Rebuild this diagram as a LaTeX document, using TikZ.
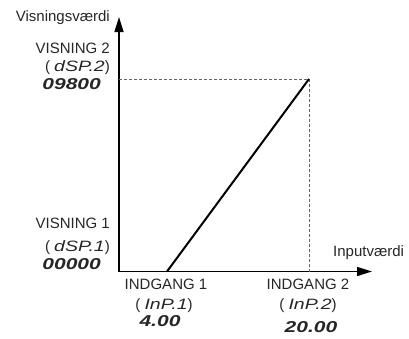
\documentclass[tikz,border=0pt]{standalone}
\usepackage{fontspec}
\setmainfont{Liberation Sans}
\newfontfamily\segfont{Liberation Sans}
\usetikzlibrary{arrows.meta}
\newcommand{\seg}[1]{\scalebox{1.3}[1]{\segfont\itshape #1}}
\newcommand{\segv}[1]{\scalebox{1.4}[1.05]{\segfont\itshape #1}}
\tikzset{
  lbl/.style={inner sep=0pt, font=\fontsize{15}{18}\selectfont, text=black!85},
  segtxt/.style={inner sep=0pt, font=\fontsize{15}{18}\selectfont\bfseries, text=black!85},
  axis/.style={line width=1.5pt, -{Triangle[length=15pt,width=9pt]}},
  guide/.style={line width=1pt, black!60, dash pattern=on 3pt off 2pt},
  curve/.style={line width=2pt}
}
\begin{document}
\begin{tikzpicture}[x=1pt,y=-1pt]
\useasboundingbox (0,0) rectangle (409,338);
\coordinate (O) at (119,271.5);
\coordinate (ytip) at (119,17);
\coordinate (xtip) at (372,271.5);
\coordinate (P1) at (167,271.5);
\coordinate (P2) at (309,79);
\coordinate (Y2) at (119,79);
\coordinate (X2) at (309,271.5);
\draw[axis] (O) -- (ytip);
\draw[axis] (O) -- (xtip);
\draw[guide] (Y2) -- (P2) -- (X2);
\draw[curve] (P1) -- (P2);
\node[lbl, anchor=east] (ylab) at (110,18) {Visningsværdi};
\node[lbl, anchor=west] (xlab) at (333,253) {Inputværdi};
\node[lbl, anchor=east] (v2) at (110,48) {VISNING 2};
\node[lbl, anchor=east] (v2c) at (110,68) {( \seg{dSP.2})};
\node[segtxt, anchor=east] (v2v) at (101,84) {\segv{09800}};
\node[lbl, anchor=east] (v1) at (110,223) {VISNING 1};
\node[lbl, anchor=east] (v1c) at (110,248) {( \seg{dSP.1})};
\node[segtxt, anchor=east] (v1v) at (101,264) {\segv{00000}};
\node[lbl] (i1) at (166,284) {INDGANG 1};
\node[lbl] (i1c) at (164,306) {( \seg{InP.1})};
\node[segtxt] (i1v) at (160,321) {\segv{4.00}};
\node[lbl] (i2) at (308,284) {INDGANG 2};
\node[lbl] (i2c) at (308,306) {( \seg{InP.2})};
\node[segtxt] (i2v) at (311,327) {\segv{20.00}};
\end{tikzpicture}
\end{document}
